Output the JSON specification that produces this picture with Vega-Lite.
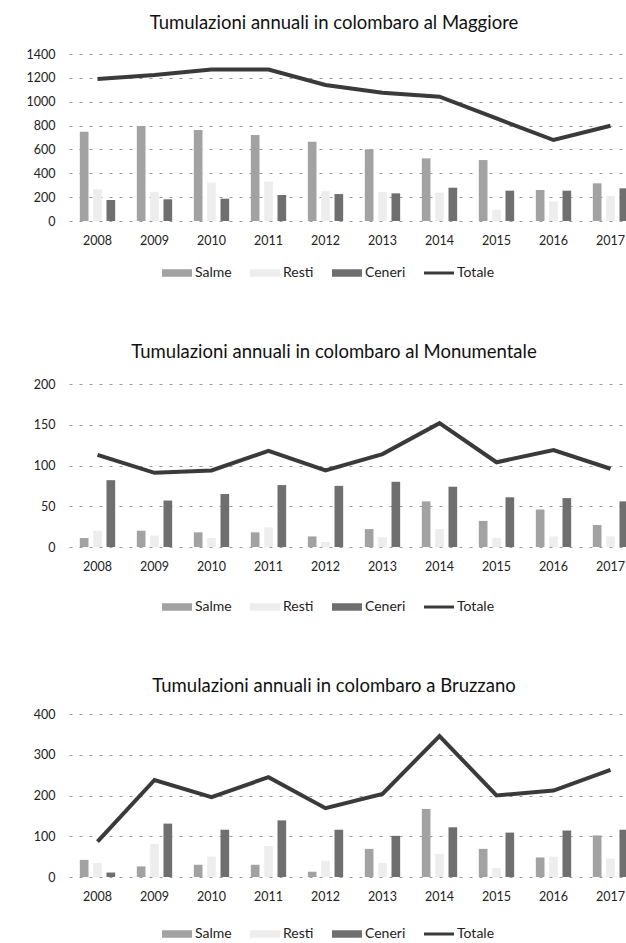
{
  "$schema": "https://vega.github.io/schema/vega-lite/v6.json",
  "background": "white",
  "padding": {"left": 26, "top": 13, "right": 0, "bottom": 0},
  "spacing": 62,
  "config": {
    "font": "Lato",
    "view": {"stroke": null},
    "title": {"fontSize": 18.5, "fontWeight": "normal", "color": "#111", "anchor": "middle", "dx": -20},
    "axis": {"labelFont": "Lato", "labelFontSize": 12.5, "labelColor": "#222", "ticks": false, "domain": false, "title": null},
    "axisY": {"grid": true, "gridColor": "#555", "gridDash": [3, 7], "gridWidth": 1, "gridOpacity": 0.6, "labelPadding": 14, "format": "d"},
    "axisX": {"grid": false, "labelPadding": 13, "labelAngle": 0},
    "legend": {"orient": "none", "direction": "horizontal", "title": null, "labelFont": "Lato", "labelFontSize": 14, "labelColor": "#222", "columnPadding": 18, "labelOffset": 3, "symbolSize": 900, "symbolStrokeWidth": 0, "legendX": 93}
  },
  "datasets": {
    "maggiore": [
      {"anno": "2008", "serie": "Salme", "valore": 748}, {"anno": "2008", "serie": "Resti", "valore": 266}, {"anno": "2008", "serie": "Ceneri", "valore": 176}, {"anno": "2008", "serie": "Totale", "valore": 1190},
      {"anno": "2009", "serie": "Salme", "valore": 796}, {"anno": "2009", "serie": "Resti", "valore": 245}, {"anno": "2009", "serie": "Ceneri", "valore": 182}, {"anno": "2009", "serie": "Totale", "valore": 1223},
      {"anno": "2010", "serie": "Salme", "valore": 762}, {"anno": "2010", "serie": "Resti", "valore": 322}, {"anno": "2010", "serie": "Ceneri", "valore": 187}, {"anno": "2010", "serie": "Totale", "valore": 1271},
      {"anno": "2011", "serie": "Salme", "valore": 721}, {"anno": "2011", "serie": "Resti", "valore": 331}, {"anno": "2011", "serie": "Ceneri", "valore": 218}, {"anno": "2011", "serie": "Totale", "valore": 1270},
      {"anno": "2012", "serie": "Salme", "valore": 665}, {"anno": "2012", "serie": "Resti", "valore": 249}, {"anno": "2012", "serie": "Ceneri", "valore": 226}, {"anno": "2012", "serie": "Totale", "valore": 1140},
      {"anno": "2013", "serie": "Salme", "valore": 601}, {"anno": "2013", "serie": "Resti", "valore": 242}, {"anno": "2013", "serie": "Ceneri", "valore": 232}, {"anno": "2013", "serie": "Totale", "valore": 1075},
      {"anno": "2014", "serie": "Salme", "valore": 525}, {"anno": "2014", "serie": "Resti", "valore": 238}, {"anno": "2014", "serie": "Ceneri", "valore": 279}, {"anno": "2014", "serie": "Totale", "valore": 1042},
      {"anno": "2015", "serie": "Salme", "valore": 511}, {"anno": "2015", "serie": "Resti", "valore": 95}, {"anno": "2015", "serie": "Ceneri", "valore": 254}, {"anno": "2015", "serie": "Totale", "valore": 860},
      {"anno": "2016", "serie": "Salme", "valore": 260}, {"anno": "2016", "serie": "Resti", "valore": 165}, {"anno": "2016", "serie": "Ceneri", "valore": 254}, {"anno": "2016", "serie": "Totale", "valore": 679},
      {"anno": "2017", "serie": "Salme", "valore": 316}, {"anno": "2017", "serie": "Resti", "valore": 209}, {"anno": "2017", "serie": "Ceneri", "valore": 274}, {"anno": "2017", "serie": "Totale", "valore": 799}
    ],
    "monumentale": [
      {"anno": "2008", "serie": "Salme", "valore": 11}, {"anno": "2008", "serie": "Resti", "valore": 20}, {"anno": "2008", "serie": "Ceneri", "valore": 82}, {"anno": "2008", "serie": "Totale", "valore": 113},
      {"anno": "2009", "serie": "Salme", "valore": 20}, {"anno": "2009", "serie": "Resti", "valore": 14}, {"anno": "2009", "serie": "Ceneri", "valore": 57}, {"anno": "2009", "serie": "Totale", "valore": 91},
      {"anno": "2010", "serie": "Salme", "valore": 18}, {"anno": "2010", "serie": "Resti", "valore": 11}, {"anno": "2010", "serie": "Ceneri", "valore": 65}, {"anno": "2010", "serie": "Totale", "valore": 94},
      {"anno": "2011", "serie": "Salme", "valore": 18}, {"anno": "2011", "serie": "Resti", "valore": 24}, {"anno": "2011", "serie": "Ceneri", "valore": 76}, {"anno": "2011", "serie": "Totale", "valore": 118},
      {"anno": "2012", "serie": "Salme", "valore": 13}, {"anno": "2012", "serie": "Resti", "valore": 6}, {"anno": "2012", "serie": "Ceneri", "valore": 75}, {"anno": "2012", "serie": "Totale", "valore": 94},
      {"anno": "2013", "serie": "Salme", "valore": 22}, {"anno": "2013", "serie": "Resti", "valore": 12}, {"anno": "2013", "serie": "Ceneri", "valore": 80}, {"anno": "2013", "serie": "Totale", "valore": 114},
      {"anno": "2014", "serie": "Salme", "valore": 56}, {"anno": "2014", "serie": "Resti", "valore": 22}, {"anno": "2014", "serie": "Ceneri", "valore": 74}, {"anno": "2014", "serie": "Totale", "valore": 152},
      {"anno": "2015", "serie": "Salme", "valore": 32}, {"anno": "2015", "serie": "Resti", "valore": 11}, {"anno": "2015", "serie": "Ceneri", "valore": 61}, {"anno": "2015", "serie": "Totale", "valore": 104},
      {"anno": "2016", "serie": "Salme", "valore": 46}, {"anno": "2016", "serie": "Resti", "valore": 13}, {"anno": "2016", "serie": "Ceneri", "valore": 60}, {"anno": "2016", "serie": "Totale", "valore": 119},
      {"anno": "2017", "serie": "Salme", "valore": 27}, {"anno": "2017", "serie": "Resti", "valore": 13}, {"anno": "2017", "serie": "Ceneri", "valore": 56}, {"anno": "2017", "serie": "Totale", "valore": 96}
    ],
    "bruzzano": [
      {"anno": "2008", "serie": "Salme", "valore": 42}, {"anno": "2008", "serie": "Resti", "valore": 34}, {"anno": "2008", "serie": "Ceneri", "valore": 11}, {"anno": "2008", "serie": "Totale", "valore": 87},
      {"anno": "2009", "serie": "Salme", "valore": 26}, {"anno": "2009", "serie": "Resti", "valore": 81}, {"anno": "2009", "serie": "Ceneri", "valore": 131}, {"anno": "2009", "serie": "Totale", "valore": 238},
      {"anno": "2010", "serie": "Salme", "valore": 30}, {"anno": "2010", "serie": "Resti", "valore": 50}, {"anno": "2010", "serie": "Ceneri", "valore": 116}, {"anno": "2010", "serie": "Totale", "valore": 196},
      {"anno": "2011", "serie": "Salme", "valore": 30}, {"anno": "2011", "serie": "Resti", "valore": 76}, {"anno": "2011", "serie": "Ceneri", "valore": 139}, {"anno": "2011", "serie": "Totale", "valore": 245},
      {"anno": "2012", "serie": "Salme", "valore": 13}, {"anno": "2012", "serie": "Resti", "valore": 40}, {"anno": "2012", "serie": "Ceneri", "valore": 116}, {"anno": "2012", "serie": "Totale", "valore": 169},
      {"anno": "2013", "serie": "Salme", "valore": 69}, {"anno": "2013", "serie": "Resti", "valore": 34}, {"anno": "2013", "serie": "Ceneri", "valore": 101}, {"anno": "2013", "serie": "Totale", "valore": 204},
      {"anno": "2014", "serie": "Salme", "valore": 167}, {"anno": "2014", "serie": "Resti", "valore": 57}, {"anno": "2014", "serie": "Ceneri", "valore": 122}, {"anno": "2014", "serie": "Totale", "valore": 346},
      {"anno": "2015", "serie": "Salme", "valore": 69}, {"anno": "2015", "serie": "Resti", "valore": 22}, {"anno": "2015", "serie": "Ceneri", "valore": 109}, {"anno": "2015", "serie": "Totale", "valore": 200},
      {"anno": "2016", "serie": "Salme", "valore": 48}, {"anno": "2016", "serie": "Resti", "valore": 50}, {"anno": "2016", "serie": "Ceneri", "valore": 114}, {"anno": "2016", "serie": "Totale", "valore": 212},
      {"anno": "2017", "serie": "Salme", "valore": 102}, {"anno": "2017", "serie": "Resti", "valore": 45}, {"anno": "2017", "serie": "Ceneri", "valore": 116}, {"anno": "2017", "serie": "Totale", "valore": 263}
    ]
  },
  "resolve": {"scale": {"y": "independent", "color": "independent"}, "legend": {"color": "independent"}},
  "vconcat": [
    {
      "title": {"text": "Tumulazioni annuali in colombaro al Maggiore", "offset": 16},
      "width": 570, "height": 167,
      "data": {"name": "maggiore"},
      "encoding": {
        "x": {"field": "anno", "type": "nominal", "scale": {"paddingInner": 0.38, "paddingOuter": 0.19}},
        "y": {"field": "valore", "type": "quantitative", "scale": {"domain": [0, 1400]}, "axis": {"values": [0, 200, 400, 600, 800, 1000, 1200, 1400]}},
        "color": {"field": "serie", "type": "nominal", "scale": {"domain": ["Salme", "Resti", "Ceneri", "Totale"], "range": ["#a2a2a2", "#ededed", "#6f6f6f", "#3a3a3a"]},
          "legend": {"legendY": 204, "encode": {"symbols": {"update": {"shape": {"signal": "datum.value === 'Totale' ? 'M-1,-0.1H1V0.1H-1Z' : 'M-1,-0.25H1V0.25H-1Z'"}}}}}}
      },
      "layer": [
        {"transform": [{"filter": "datum.serie !== 'Totale'"}], "mark": {"type": "bar"},
         "encoding": {"xOffset": {"field": "serie", "type": "nominal", "sort": ["Salme", "Resti", "Ceneri"], "scale": {"paddingInner": 0.35}}}},
        {"transform": [{"filter": "datum.serie === 'Totale'"}], "mark": {"type": "line", "strokeWidth": 4}}
      ]
    },
    {
      "title": {"text": "Tumulazioni annuali in colombaro al Monumentale", "offset": 17},
      "width": 570, "height": 163,
      "data": {"name": "monumentale"},
      "encoding": {
        "x": {"field": "anno", "type": "nominal", "scale": {"paddingInner": 0.38, "paddingOuter": 0.19}},
        "y": {"field": "valore", "type": "quantitative", "scale": {"domain": [0, 200]}, "axis": {"values": [0, 50, 100, 150, 200]}},
        "color": {"field": "serie", "type": "nominal", "scale": {"domain": ["Salme", "Resti", "Ceneri", "Totale"], "range": ["#a2a2a2", "#ededed", "#6f6f6f", "#3a3a3a"]},
          "legend": {"legendY": 208, "encode": {"symbols": {"update": {"shape": {"signal": "datum.value === 'Totale' ? 'M-1,-0.1H1V0.1H-1Z' : 'M-1,-0.25H1V0.25H-1Z'"}}}}}}
      },
      "layer": [
        {"transform": [{"filter": "datum.serie !== 'Totale'"}], "mark": {"type": "bar"},
         "encoding": {"xOffset": {"field": "serie", "type": "nominal", "sort": ["Salme", "Resti", "Ceneri"], "scale": {"paddingInner": 0.35}}}},
        {"transform": [{"filter": "datum.serie === 'Totale'"}], "mark": {"type": "line", "strokeWidth": 4}}
      ]
    },
    {
      "title": {"text": "Tumulazioni annuali in colombaro a Bruzzano", "offset": 13},
      "width": 570, "height": 163,
      "data": {"name": "bruzzano"},
      "encoding": {
        "x": {"field": "anno", "type": "nominal", "scale": {"paddingInner": 0.38, "paddingOuter": 0.19}},
        "y": {"field": "valore", "type": "quantitative", "scale": {"domain": [0, 400]}, "axis": {"values": [0, 100, 200, 300, 400]}},
        "color": {"field": "serie", "type": "nominal", "scale": {"domain": ["Salme", "Resti", "Ceneri", "Totale"], "range": ["#a2a2a2", "#ededed", "#6f6f6f", "#3a3a3a"]},
          "legend": {"legendY": 205, "encode": {"symbols": {"update": {"shape": {"signal": "datum.value === 'Totale' ? 'M-1,-0.1H1V0.1H-1Z' : 'M-1,-0.25H1V0.25H-1Z'"}}}}}}
      },
      "layer": [
        {"transform": [{"filter": "datum.serie !== 'Totale'"}], "mark": {"type": "bar"},
         "encoding": {"xOffset": {"field": "serie", "type": "nominal", "sort": ["Salme", "Resti", "Ceneri"], "scale": {"paddingInner": 0.35}}}},
        {"transform": [{"filter": "datum.serie === 'Totale'"}], "mark": {"type": "line", "strokeWidth": 4}}
      ]
    }
  ]
}
